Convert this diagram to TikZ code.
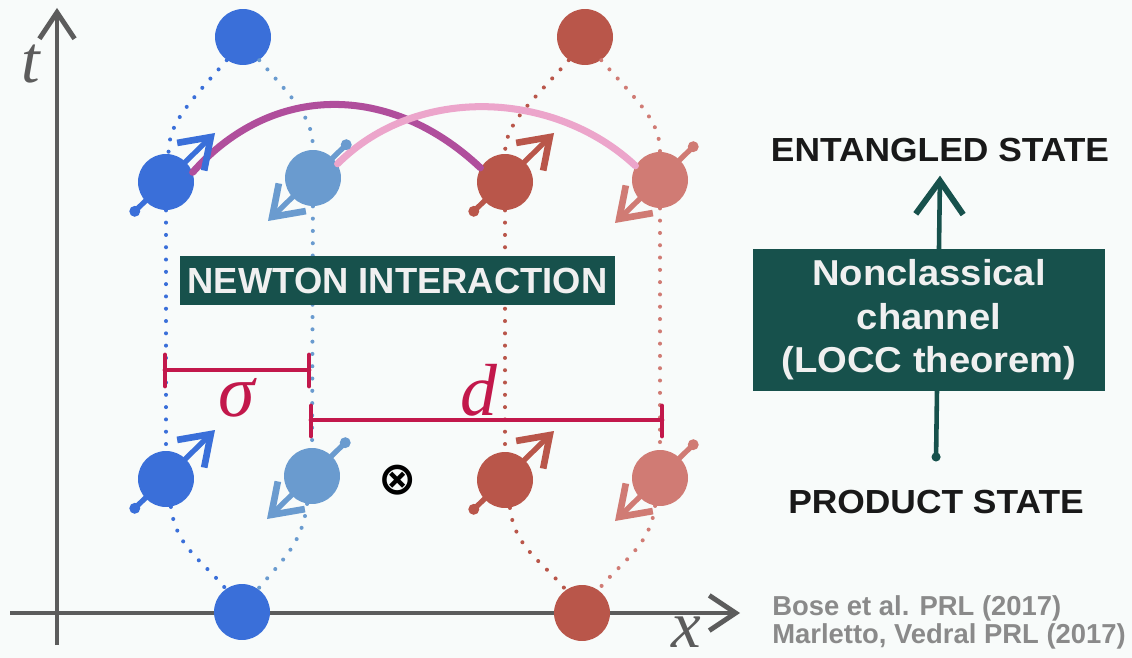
\documentclass[tikz,border=0pt]{standalone}
\usepackage{fontspec}
\setmainfont{Liberation Sans}
\newfontfamily\widefont[FakeStretch=1.06]{Liberation Sans}
\newfontfamily\chanfont[FakeStretch=1.06]{Liberation Sans}
\newfontfamily\varfont{Liberation Serif}
\newfontfamily\symfont{DejaVu Sans}
\usetikzlibrary{arrows.meta,calc}

\definecolor{paper}{HTML}{F8FBFA}
\definecolor{axisgray}{HTML}{5C5C5C}
\definecolor{spinblue}{HTML}{3A6FD9}
\definecolor{paleblue}{HTML}{6A9BCF}
\definecolor{spinred}{HTML}{B9564A}
\definecolor{palered}{HTML}{D07B74}
\definecolor{linkpurple}{HTML}{B04E9C}
\definecolor{linkpink}{HTML}{ECA5CB}
\definecolor{barred}{HTML}{C2184B}
\definecolor{boxteal}{HTML}{17514C}
\definecolor{citegray}{HTML}{8A8A8A}

\begin{document}
\begin{tikzpicture}[x=0.02cm, y=-0.02cm,
  ball/.style={circle, inner sep=0pt, minimum size=1.12cm},
  dots/.style={line width=2.3pt, line cap=round, dash pattern=on 0pt off 7pt},
  spin/.style={line width=3pt, {Circle[length=6pt]}-{Straight Barb[length=16pt, width=22pt, line width=3.8pt]}},
  link/.style={line width=4pt, line cap=round},
  bar/.style={barred, line width=2.8pt, line cap=round},
  axis/.style={axisgray, line width=2.2pt, -{Straight Barb[length=15pt, width=20pt, line width=2.8pt]}},
  flow/.style={boxteal, line width=2.6pt, {Circle[length=5pt]}-{Straight Barb[length=19pt, width=27pt, line width=3.4pt]}},
  tealbox/.style={fill=boxteal, text=white!94!black, inner sep=0pt},
  cite/.style={citegray, inner sep=0pt, font=\bfseries\fontsize{15.6}{16}\selectfont}]

  \fill[paper] (0,0) rectangle (1132,658);
  \useasboundingbox (0,0) rectangle (1132,658);

  % axes
  \coordinate (ybot) at (57,645);
  \coordinate (ytop) at (57,8);
  \coordinate (xleft) at (10,613);
  \coordinate (xright) at (740,613);
  \draw[axis] (ybot) -- (ytop);
  \draw[axis] (xleft) -- (xright);
  \node[axisgray, inner sep=0pt] (tlab) at (31,64) {\varfont\itshape\fontsize{38}{38}\selectfont t};
  \node[axisgray, inner sep=0pt] (xlab) at (686,632) {\varfont\itshape\fontsize{38}{38}\selectfont x};

  % masses: start, two branches, recombination
  \node[ball, fill=spinblue] (t1) at (243,37) {};
  \node[ball, fill=spinred]  (t2) at (585,37) {};
  \node[ball, fill=spinblue] (s1) at (166,182) {};
  \node[ball, fill=paleblue] (s2) at (313,178) {};
  \node[ball, fill=spinred]  (s3) at (505,182) {};
  \node[ball, fill=palered]  (s4) at (660,180) {};
  \node[ball, fill=spinblue] (l1) at (166,479) {};
  \node[ball, fill=paleblue] (l2) at (312,476) {};
  \node[ball, fill=spinred]  (l3) at (505,480) {};
  \node[ball, fill=palered]  (l4) at (660,478) {};
  \node[ball, fill=spinblue] (u1) at (242,612) {};
  \node[ball, fill=spinred]  (u2) at (582,613) {};

  % paths of the superposed masses
  \draw[dots, spinblue] (t1.235) .. controls +(-40,45) and +(0,-30) .. (s1.85);
  \draw[dots, paleblue] (t1.305) .. controls +(40,45) and +(0,-30) .. (s2.90);
  \draw[dots, spinred] (t2.235) .. controls +(-40,45) and +(0,-30) .. (s3.90);
  \draw[dots, palered] (t2.305) .. controls +(40,45) and +(0,-30) .. (s4.90);
  \draw[dots, spinblue] (s1) -- (l1);
  \draw[dots, paleblue] (s2) -- (l2);
  \draw[dots, spinred] (s3) -- (l3);
  \draw[dots, palered] (s4) -- (l4);
  \draw[dots, spinblue] (l1.280) .. controls +(5,40) and +(-25,-30) .. (u1.125);
  \draw[dots, paleblue] (l2.260) .. controls +(-5,40) and +(25,-30) .. (u1.55);
  \draw[dots, spinred] (l3.280) .. controls +(5,40) and +(-25,-30) .. (u2.125);
  \draw[dots, palered] (l4.260) .. controls +(-5,40) and +(25,-30) .. (u2.55);

  % gravitational links
  \draw[link, linkpurple] (s1.20) .. controls +(80,-90) and +(-90,-85) .. (s3.150);
  \draw[link, linkpink] (s2.30) .. controls +(80,-80) and +(-80,-75) .. (s4.150);

  % spins
  \draw[spin, spinblue] ($(s1)+(-35,33)$) -- ($(s1)+(49,-49)$);
  \draw[spin, spinred]  ($(s3)+(-35,33)$) -- ($(s3)+(49,-49)$);
  \draw[spin, spinblue] ($(l1)+(-35,33)$) -- ($(l1)+(49,-49)$);
  \draw[spin, spinred]  ($(l3)+(-35,33)$) -- ($(l3)+(49,-49)$);
  \draw[spin, paleblue] ($(s2)+(37,-37)$) -- ($(s2)+(-45,43)$);
  \draw[spin, palered]  ($(s4)+(37,-37)$) -- ($(s4)+(-45,43)$);
  \draw[spin, paleblue] ($(l2)+(37,-37)$) -- ($(l2)+(-45,43)$);
  \draw[spin, palered]  ($(l4)+(37,-37)$) -- ($(l4)+(-45,43)$);

  % widths sigma and d
  \coordinate (sa) at (165,370);
  \coordinate (sb) at (309,370);
  \coordinate (da) at (311,420);
  \coordinate (db) at (662,420);
  \draw[bar] (sa) -- (sb);
  \draw[bar] ($(sa)+(0,-15)$) -- ($(sa)+(0,16)$);
  \draw[bar] ($(sb)+(0,-15)$) -- ($(sb)+(0,16)$);
  \draw[bar] (da) -- (db);
  \draw[bar] ($(da)+(0,-14)$) -- ($(da)+(0,16)$);
  \draw[bar] ($(db)+(0,-14)$) -- ($(db)+(0,16)$);
  \node[barred] (siglab) at (237,398) {\varfont\itshape\fontsize{42}{42}\selectfont σ};
  \node[barred] (dlab) at (479,390) {\varfont\itshape\fontsize{42}{42}\selectfont d};
  \node (cross) at (398,480) {\symfont\bfseries\fontsize{26}{26}\selectfont ⊗};

  \node[tealbox, minimum width=8.7cm, minimum height=0.98cm,
        font=\bfseries\fontsize{20.7}{22}\selectfont] (newton) at (397.5,280.5) {NEWTON INTERACTION};

  % product -> entangled
  \node[inner sep=0pt, anchor=base, text=black!90,
        font=\widefont\bfseries\fontsize{19}{20}\selectfont] (ent) at (940,162) {ENTANGLED STATE};
  \node[inner sep=0pt, anchor=base, text=black!90,
        font=\widefont\bfseries\fontsize{19}{20}\selectfont] (prod) at (936,513) {PRODUCT STATE};
  \draw[flow] ([yshift=0.56cm]prod.north) -- ([yshift=-0.26cm]ent.south);
  \node[tealbox, minimum width=7.04cm, minimum height=2.84cm, align=center,
        font=\chanfont\bfseries\fontsize{20.5}{24.7}\selectfont] (chan) at (929,320)
        {Nonclassical\\channel\\(LOCC theorem)};

  \node[cite, anchor=base west] (cite1) at (772,615) {Bose et al. PRL (2017)};
  \node[cite, anchor=base west] (cite2) at (772,643) {Marletto, Vedral PRL (2017)};
\end{tikzpicture}
\end{document}
